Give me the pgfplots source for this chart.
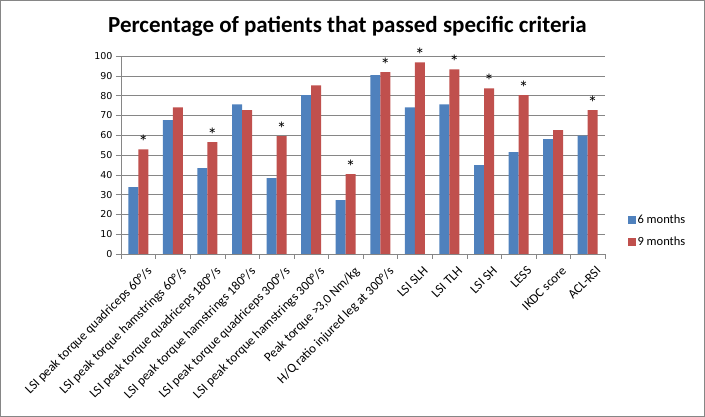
\documentclass[border=0pt]{standalone}
\usepackage{fontspec}
\setmainfont{Carlito}
\newfontfamily\dejavu{DejaVu Sans}
\usepackage{pgfplots}
\usepackage{pgfplotstable}
\pgfplotsset{compat=1.18}

\definecolor{sixm}{HTML}{4F81BD}
\definecolor{ninem}{HTML}{C0504D}
\definecolor{gridgray}{HTML}{868686}

% percentage passing each criterion, * = significant difference
\pgfplotstableread{
x six nine star
1 33.8 52.9 *
2 67.6 74.1 {}
3 43.4 56.5 *
4 75.6 72.6 {}
5 38.3 59.5 *
6 80.2 85.2 {}
7 27.2 40.3 *
8 90.3 91.8 *
9 74.1 96.8 *
10 75.6 93.3 *
11 44.9 83.7 *
12 51.4 80.2 *
13 58.0 62.5 {}
14 59.8 72.6 *
}\passed

\begin{document}
\begin{tikzpicture}
\useasboundingbox (0,0) rectangle (705pt,417pt);
\draw[gridgray] (0.5pt,0.5pt) rectangle (704.5pt,416.5pt);
\node[font=\bfseries\fontsize{23}{26}\selectfont] at (347.5pt,391pt)
  {Percentage of patients that passed specific criteria};
\begin{axis}[
    at={(121pt,163pt)}, anchor=south west,
    scale only axis,
    width=484pt, height=198pt,
    ybar=0pt, bar width=10pt,
    xmin=0.5, xmax=14.5,
    ymin=0, ymax=100,
    ytick={0,10,...,100},
    xtick={1,...,14},
    minor xtick={0.5,1.5,...,14.5},
    xticklabels={
      LSI peak torque quadriceps 60°/s,
      LSI peak torque hamstrings 60°/s,
      LSI peak torque quadriceps 180°/s,
      LSI peak torque hamstrings 180°/s,
      LSI peak torque quadriceps 300°/s,
      LSI peak torque hamstrings 300°/s,
      {Peak torque >3,0 Nm/kg},
      H/Q ratio injured leg at 300°/s,
      LSI SLH, LSI TLH, LSI SH, LESS, IKDC score, ACL-RSI},
    x tick label style={rotate=45, anchor=north east, font=\fontsize{13}{15}\selectfont, inner sep=1pt, yshift=-9pt, xshift=2pt},
    /pgf/number format/assume math mode=true,
    y tick label style={font=\dejavu\fontsize{9.5}{11}\selectfont},
    axis x line*=bottom, axis y line*=left,
    axis line style={gridgray},
    tick align=outside,
    major x tick style={draw=none},
    minor x tick style={gridgray},
    major y tick style={gridgray},
    major tick length=5pt, minor tick length=5pt,
    ymajorgrids, major grid style={gridgray},
    legend style={at={(axis description cs:1.04,0.115)}, anchor=west, draw=none, fill=none,
      font=\fontsize{12.5}{14}\selectfont, row sep=8pt},
    legend cell align=left,
    legend image code/.code={\fill[#1] (0pt,-4pt) rectangle (8pt,4pt);},
]
\addplot[fill=sixm, draw=none] table[x=x, y=six] {\passed};
\addlegendentry{6 months}
\addplot[fill=ninem, draw=none,
    nodes near coords, point meta=explicit symbolic,
    every node near coord/.append style={font=\fontsize{19}{19}\selectfont, text=black, inner sep=0.5pt, anchor=south}]
    table[x=x, y=nine, meta=star] {\passed};
\addlegendentry{9 months}
\node[font=\fontsize{12}{14}\selectfont] at (axis description cs:-0.097,0.586) {\%};
\end{axis}
\end{tikzpicture}
\end{document}
